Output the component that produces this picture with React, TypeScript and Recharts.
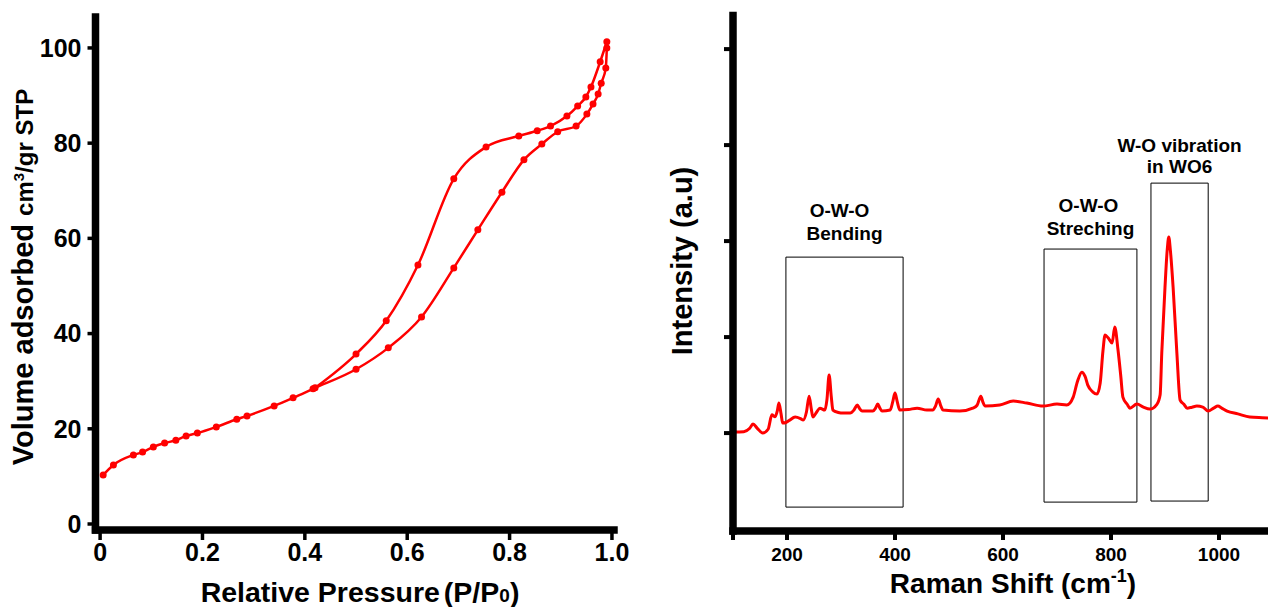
import React from 'react';
import { LineChart, Line, XAxis, YAxis, ReferenceArea } from 'recharts';

const FONT = '"Liberation Sans", Arial, Helvetica, sans-serif';
const RED = '#ff0000';

// ---------- Left panel: N2 isotherm ----------
const pressureAds = [0.006, 0.026, 0.065, 0.083, 0.104, 0.126, 0.148, 0.168, 0.19, 0.227, 0.267, 0.287, 0.34, 0.377, 0.416, 0.5, 0.563, 0.628, 0.691, 0.738, 0.785, 0.828, 0.863, 0.894, 0.93, 0.951, 0.963, 0.973, 0.979, 0.988, 0.99];
const volumeAds = [10.3, 12.4, 14.5, 15.1, 16.2, 17.0, 17.6, 18.5, 19.1, 20.4, 22.0, 22.7, 24.8, 26.5, 28.4, 32.5, 37.0, 43.5, 53.8, 61.8, 69.7, 76.5, 79.8, 82.4, 83.6, 86.1, 88.2, 90.3, 92.6, 95.8, 100.0];
const pressureDes = [0.42, 0.5, 0.559, 0.621, 0.691, 0.754, 0.818, 0.854, 0.88, 0.912, 0.933, 0.949, 0.959, 0.977, 0.99];
const volumeDes = [28.6, 35.7, 42.7, 54.4, 72.5, 79.2, 81.5, 82.6, 83.6, 85.7, 87.8, 89.7, 91.8, 97.1, 101.3];
const isoXTicks = [0, 0.2, 0.4, 0.6, 0.8, 1.0];
const isoYTicks = [0, 20, 40, 60, 80, 100];

// ---------- Right panel: Raman spectrum ----------
const ramanShift = [100, 120, 131, 137, 145, 155, 165, 172, 178, 182, 185, 189, 192, 198, 205, 215, 225, 230, 236, 241, 245, 248, 255, 261, 270, 274, 278, 282, 285, 295, 304, 317, 324, 330, 335, 339, 359, 364, 368, 372, 376, 391, 396, 400, 404, 409, 425, 441, 459, 470, 475, 480, 485, 489, 520, 544, 552, 559, 563, 567, 594, 619, 644, 674, 700, 718, 730, 738, 746, 752, 757, 766, 774, 780, 785, 789, 795, 802, 807, 813, 818, 822, 830, 835, 848, 860, 872, 885, 891, 894, 900, 904, 907, 910, 915, 922, 928, 935, 941, 950, 959, 970, 980, 990, 998, 1005, 1015, 1035, 1057, 1080, 1100];
const ramanIntensity = [10, 15, 50, 94, 50, 0, 40, 190, 170, 230, 313, 200, 104, 110, 135, 167, 150, 135, 220, 385, 250, 167, 220, 260, 240, 350, 604, 380, 240, 215, 208, 208, 240, 292, 250, 229, 229, 260, 302, 260, 229, 240, 330, 417, 330, 240, 245, 260, 240, 240, 280, 354, 280, 240, 229, 260, 290, 385, 320, 281, 292, 333, 313, 281, 302, 292, 375, 540, 635, 590, 500, 430, 406, 521, 850, 1021, 990, 938, 1104, 865, 600, 375, 300, 260, 302, 270, 250, 300, 400, 833, 1521, 1900, 2042, 1900, 1521, 833, 344, 300, 260, 270, 281, 271, 229, 260, 281, 260, 229, 200, 167, 160, 156];
const ramanXTicks = [100, 200, 400, 600, 800, 1000];
const ramanYTicks = [0, 1000, 2000, 3000, 4000];

const bandLine1 = ['O-W-O', 'O-W-O', 'W-O vibration'];
const bandLine2 = ['Bending', 'Streching', 'in WO6'];
const bandFrom = [198, 676, 874];
const bandTo = [415, 848, 980];
const bandTop = [1833, 1917, 2604];
const bandBottom = [-771, -719, -708];

// label offsets (styling, pixels above the box top)
const bandOffsets = [
  [-40, -17, -5],
  [-37, -14, -2],
  [-31, -10, 0],
];

const adsData = pressureAds.map((p, i) => ({ p, v: volumeAds[i] }));
const desData = pressureDes.map((p, i) => ({ p, v: volumeDes[i] }));
const ramanData = ramanShift.map((s, i) => ({ s, v: ramanIntensity[i] }));

const tickStyle = (size: number) => ({ fill: '#000', fontSize: size, fontWeight: 700, fontFamily: FONT });
const axisLineStyle = { stroke: '#000', strokeWidth: 7.5, strokeLinecap: 'square' as const };

const IsoXTitle = () => (
  <text x={360} y={602} textAnchor="middle" fontFamily={FONT} fontWeight={700} fontSize={28.5} fill="#000">
    Relative Pressure
    <tspan dx={4}>(P/P</tspan>
    <tspan fontSize={19}>0</tspan>
    <tspan fontSize={28.5}>)</tspan>
  </text>
);

const IsoYTitle = () => (
  <text
    x={33}
    y={277}
    transform="rotate(-90, 33, 277)"
    textAnchor="middle"
    fontFamily={FONT}
    fontWeight={700}
    fill="#000"
  >
    <tspan fontSize={29}>Volume adsorbed </tspan>
    <tspan fontSize={24}>cm</tspan>
    <tspan fontSize={15} dy={-9}>3</tspan>
    <tspan fontSize={24} dy={9}>/gr STP</tspan>
  </text>
);

const RamanXTitle = () => (
  <text x={373} y={593} textAnchor="middle" fontFamily={FONT} fontWeight={700} fontSize={28} fill="#000">
    Raman Shift (cm
    <tspan fontSize={18} dy={-11}>-1</tspan>
    <tspan fontSize={28} dy={11}>)</tspan>
  </text>
);

const RamanYTitle = () => (
  <text
    x={52}
    y={261}
    transform="rotate(-90, 52, 261)"
    textAnchor="middle"
    fontFamily={FONT}
    fontWeight={700}
    fontSize={29}
    fill="#000"
  >
    Intensity (a.u)
  </text>
);

const BandLabel = (props: any) => {
  const { viewBox, idx } = props;
  if (!viewBox) return null;
  const cx = viewBox.x + viewBox.width / 2;
  const top = viewBox.y;
  const off = bandOffsets[idx];
  return (
    <g>
      <text x={cx + off[2]} y={top + off[0]} textAnchor="middle" fontFamily={FONT} fontWeight={700} fontSize={19} fill="#000">
        {bandLine1[idx]}
      </text>
      <text x={cx} y={top + off[1]} textAnchor="middle" fontFamily={FONT} fontWeight={700} fontSize={19} fill="#000">
        {bandLine2[idx]}
      </text>
    </g>
  );
};

export default function App() {
  return (
    <div style={{ position: 'fixed', left: 0, top: 0, width: 1268, height: 607, overflow: 'hidden', background: '#fff' }}>
      <div style={{ position: 'absolute', left: 0, top: 0 }}>
        <LineChart width={640} height={607} margin={{ top: 17, right: 26, bottom: 0, left: 0 }}>
          <XAxis
            xAxisId="b"
            dataKey="p"
            type="number"
            domain={[-0.009, 1.004]}
            allowDataOverflow
            ticks={isoXTicks}
            interval={0}
            tickFormatter={(v: number) => (v === 0 ? '0' : v.toFixed(1))}
            height={77}
            tickSize={10}
            tickMargin={3}
            tick={tickStyle(25)}
            tickLine={{ stroke: '#000', strokeWidth: 3.5 }}
            axisLine={axisLineStyle}
            label={<IsoXTitle />}
          />
          <XAxis xAxisId="t" orientation="top" type="number" domain={[-0.009, 1.004]} height={0} tick={false} tickLine={false} axisLine={axisLineStyle} />
          <YAxis
            yAxisId="l"
            type="number"
            domain={[-1.26, 106.5]}
            allowDataOverflow
            ticks={isoYTicks}
            interval={0}
            width={95.5}
            tickSize={8}
            tickMargin={6}
            tick={tickStyle(25)}
            tickLine={{ stroke: '#000', strokeWidth: 3.5 }}
            axisLine={axisLineStyle}
            label={<IsoYTitle />}
          />
          <YAxis yAxisId="r" orientation="right" type="number" domain={[-1.26, 106.5]} width={0} tick={false} tickLine={false} axisLine={axisLineStyle} />
          <Line
            xAxisId="b"
            yAxisId="l"
            data={adsData}
            dataKey="v"
            type="monotone"
            stroke={RED}
            strokeWidth={2.5}
            dot={{ r: 3.5, fill: RED, stroke: RED, strokeWidth: 0 }}
            activeDot={false}
            isAnimationActive={false}
          />
          <Line
            xAxisId="b"
            yAxisId="l"
            data={desData}
            dataKey="v"
            type="monotone"
            stroke={RED}
            strokeWidth={2.5}
            dot={{ r: 3.5, fill: RED, stroke: RED, strokeWidth: 0 }}
            activeDot={false}
            isAnimationActive={false}
          />
        </LineChart>
      </div>
      <div style={{ position: 'absolute', left: 640, top: 0 }}>
        <LineChart width={650} height={607} data={ramanData} margin={{ top: 15.5, right: 17, bottom: 0, left: 0 }}>
          <XAxis
            xAxisId="b"
            dataKey="s"
            type="number"
            domain={[100, 1100]}
            allowDataOverflow
            ticks={ramanXTicks}
            interval={0}
            tickFormatter={(v: number) => (v === 100 ? '' : String(v))}
            height={76}
            tickSize={9}
            tickMargin={8}
            tick={tickStyle(19)}
            tickLine={{ stroke: '#000', strokeWidth: 4 }}
            axisLine={axisLineStyle}
            label={<RamanXTitle />}
          />
          <XAxis xAxisId="t" orientation="top" type="number" domain={[100, 1100]} height={0} tick={false} tickLine={false} axisLine={axisLineStyle} />
          <YAxis
            yAxisId="l"
            type="number"
            domain={[-1020, 4350]}
            allowDataOverflow
            ticks={ramanYTicks}
            interval={0}
            width={93}
            tickSize={9}
            tickFormatter={() => ''}
            tickLine={{ stroke: '#000', strokeWidth: 4 }}
            axisLine={axisLineStyle}
            label={<RamanYTitle />}
          />
          <YAxis yAxisId="r" orientation="right" type="number" domain={[-1020, 4350]} width={0} tick={false} tickLine={false} axisLine={axisLineStyle} />
          {bandFrom.map((x1, i) => (
            <ReferenceArea
              key={i}
              xAxisId="b"
              yAxisId="l"
              x1={x1}
              x2={bandTo[i]}
              y1={bandBottom[i]}
              y2={bandTop[i]}
              fill="none"
              fillOpacity={0}
              stroke="#000"
              strokeWidth={1}
              ifOverflow="visible"
              label={<BandLabel idx={i} />}
            />
          ))}
          <Line
            xAxisId="b"
            yAxisId="l"
            dataKey="v"
            type="monotone"
            stroke={RED}
            strokeWidth={3}
            dot={false}
            activeDot={false}
            isAnimationActive={false}
          />
        </LineChart>
      </div>
    </div>
  );
}
